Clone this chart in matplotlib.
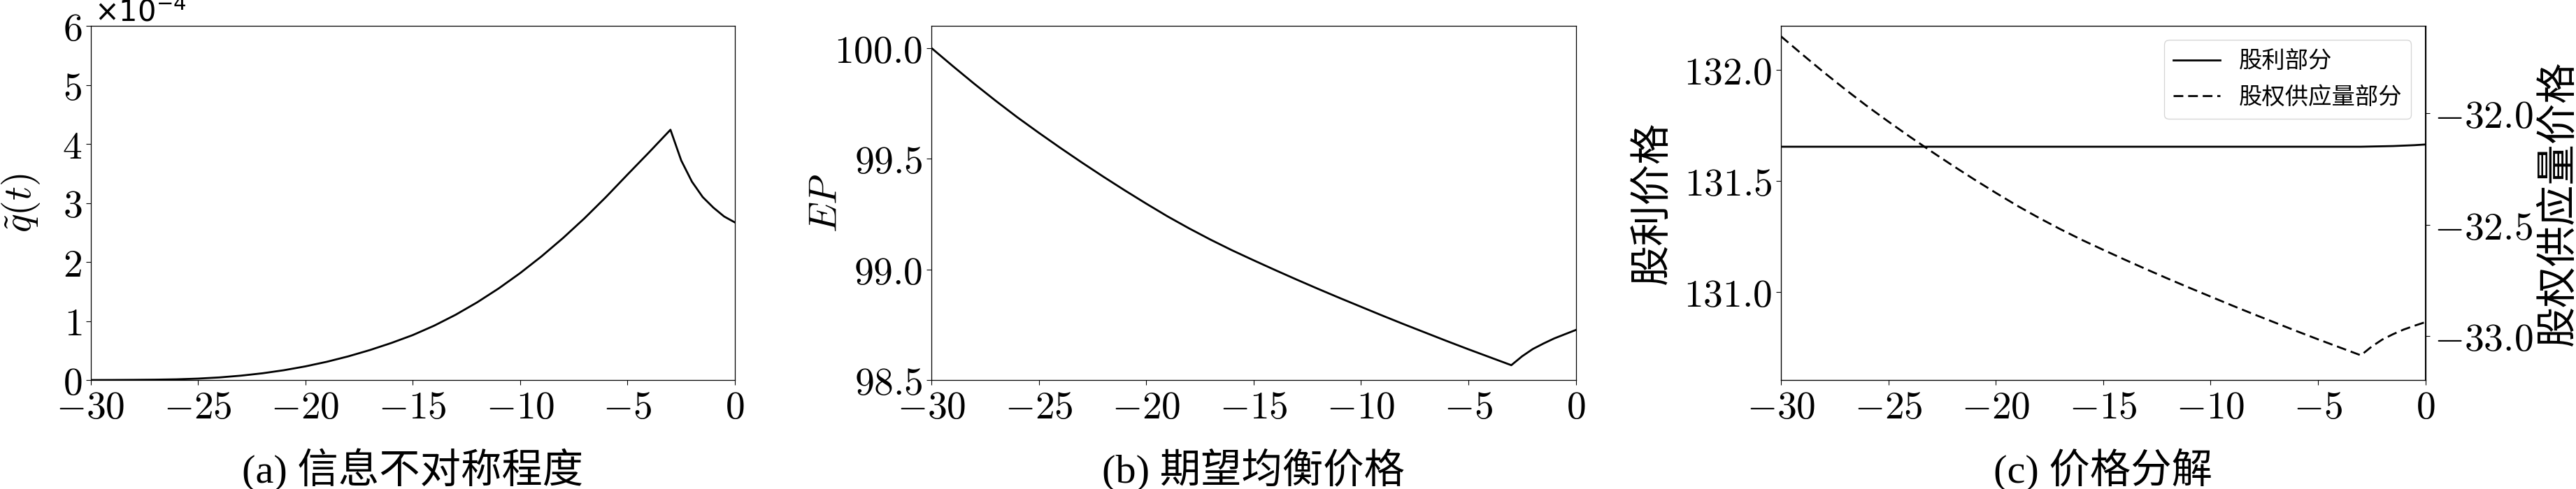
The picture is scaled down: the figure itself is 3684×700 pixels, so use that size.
import numpy as np
import matplotlib
matplotlib.use("Agg")
import matplotlib.pyplot as plt
from matplotlib.ticker import FuncFormatter

plt.rcParams["mathtext.fontset"] = "cm"
plt.rcParams["font.family"] = ["DejaVu Sans", "Noto Sans CJK SC"]

# time axis (shared by all panels)
t = [-30, -29, -28, -27, -26, -25, -24, -23, -22, -21, -20, -19, -18, -17, -16,
     -15, -14, -13, -12, -11, -10, -9, -8, -7, -6, -5, -4, -3,
     -2.5, -2, -1.5, -1, -0.5, 0]

# (a) information asymmetry, in units of 1e-4
q_tilde_e4 = [0.000, 0.001, 0.003, 0.006, 0.012, 0.024, 0.044, 0.074, 0.114, 0.166,
              0.231, 0.309, 0.401, 0.507, 0.627, 0.761, 0.921, 1.106, 1.316, 1.551,
              1.811, 2.096, 2.406, 2.741, 3.101, 3.481, 3.856, 4.240,
              3.720, 3.360, 3.100, 2.920, 2.770, 2.670]

# (b) expected equilibrium price
ep = [100.000, 99.918, 99.838, 99.761, 99.687, 99.617, 99.549, 99.483, 99.419, 99.357,
      99.297, 99.239, 99.185, 99.134, 99.086, 99.041, 98.997, 98.954, 98.912, 98.871,
      98.831, 98.791, 98.752, 98.714, 98.676, 98.639, 98.603, 98.567,
      98.607, 98.640, 98.665, 98.688, 98.707, 98.726]

# (c) price decomposition
dividend_part = [131.654] * 28 + [131.655, 131.656, 131.657, 131.659, 131.661, 131.664]
supply_part = [-31.654, -31.736, -31.816, -31.893, -31.967, -32.037, -32.105, -32.171,
               -32.235, -32.297, -32.357, -32.415, -32.469, -32.520, -32.568, -32.613,
               -32.657, -32.700, -32.742, -32.783, -32.823, -32.863, -32.902, -32.940,
               -32.978, -33.015, -33.051, -33.087,
               -33.048, -33.016, -32.992, -32.971, -32.954, -32.938]

x_ticks = [-30, -25, -20, -15, -10, -5, 0]
q_ticks_e4 = [0, 1, 2, 3, 4, 5, 6]
ep_ticks = [98.5, 99.0, 99.5, 100.0]
div_ticks = [131.0, 131.5, 132.0]
sup_ticks = [-33.0, -32.5, -32.0]
captions = ["(a) 信息不对称程度", "(b) 期望均衡价格", "(c) 价格分解"]
legend_labels = ["股利部分", "股权供应量部分"]

TICK_FS = 40
CJK_FS = 42
LW = 2.0
cap_family = ["Liberation Serif", "Noto Sans CJK SC"]
cjk_family = ["Noto Sans CJK SC", "DejaVu Sans"]

fig = plt.figure(figsize=(36.84, 7), dpi=100)
W, H = 3684, 700
bottom, height = (700 - 544) / H, 507 / H
lefts = [129.5, 1332, 2547]
width = 921.5 / W
axes = [fig.add_axes([l / W, bottom, width, height]) for l in lefts]

fmt_int = FuncFormatter(lambda v, p: f"${v:g}$")
fmt_1f = FuncFormatter(lambda v, p: f"${v:.1f}$")


def style(ax):
    ax.set_xlim(-30, 0)
    ax.set_xticks(x_ticks)
    ax.xaxis.set_major_formatter(fmt_int)
    ax.tick_params(labelsize=TICK_FS, length=5, width=0.8, pad=4)
    for s in ax.spines.values():
        s.set_linewidth(0.9)


# (a)
ax = axes[0]
ax.plot(t, np.array(q_tilde_e4) * 1e-4, color="black", lw=LW)
style(ax)
ax.set_ylim(0, 6e-4)
ax.set_yticks(np.array(q_ticks_e4) * 1e-4)
ax.yaxis.set_major_formatter(FuncFormatter(lambda v, p: f"${v * 1e4:.0f}$"))
ax.text(0.006, 0.995, r"$\mathdefault{\times10^{-4}}$", transform=ax.transAxes,
        ha="left", va="bottom", fontsize=30)
ax.text(-0.108, 0.5, r"$\tilde{q}(t)$", transform=ax.transAxes, rotation=90,
        ha="center", va="center", fontsize=40)

# (b)
ax = axes[1]
ax.plot(t, ep, color="black", lw=LW)
style(ax)
ax.set_ylim(98.5, 100.1)
ax.set_yticks(ep_ticks)
ax.yaxis.set_major_formatter(fmt_1f)
ax.text(-0.163, 0.5, r"$EP$", transform=ax.transAxes, rotation=90,
        ha="center", va="center", fontsize=40)

# (c)
ax = axes[2]
l1, = ax.plot(t, dividend_part, color="black", lw=LW, label=legend_labels[0])
style(ax)
ax.set_ylim(130.604, 132.198)
ax.set_yticks(div_ticks)
ax.yaxis.set_major_formatter(fmt_1f)
ax.text(-0.20, 0.5, "股利价格", transform=ax.transAxes, rotation=90,
        ha="center", va="center", fontsize=CJK_FS, family=cjk_family)
ax2 = ax.twinx()
l2, = ax2.plot(t, supply_part, color="black", lw=LW, dashes=(5, 2.5),
               label=legend_labels[1])
ax2.set_ylim(-33.198, -31.607)
ax2.set_yticks(sup_ticks)
ax2.yaxis.set_major_formatter(fmt_1f)
ax2.tick_params(labelsize=TICK_FS, length=5, width=0.8, pad=4)
ax2.text(1.205, 0.5, "股权供应量价格", transform=ax.transAxes, rotation=90,
         ha="center", va="center", fontsize=CJK_FS, family=cjk_family)
ax2.legend(handles=[l1, l2], loc="upper right", prop={"family": cjk_family, "size": 24},
           borderaxespad=0.6)

for a, cap in zip(axes, captions):
    fig.text(a.get_position().x0 + a.get_position().width / 2, 0.04, cap,
             ha="center", va="center", fontsize=CJK_FS, family=cap_family)

fig.savefig("out.png", dpi=100)
